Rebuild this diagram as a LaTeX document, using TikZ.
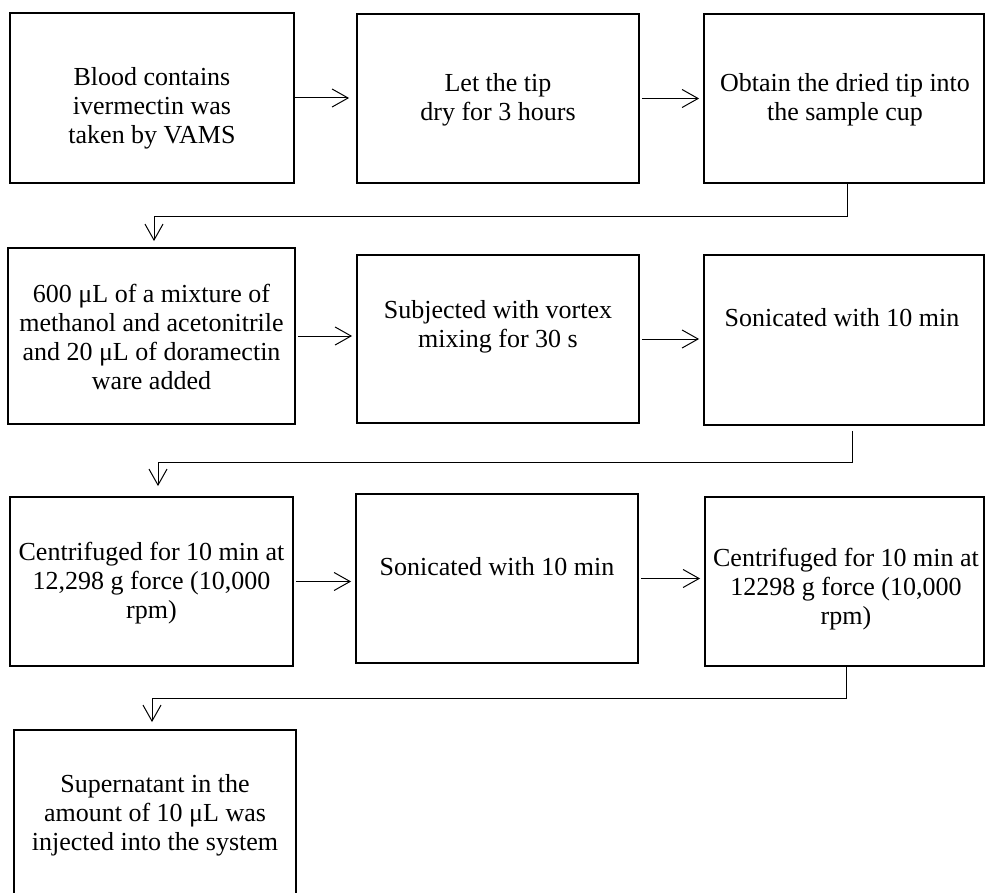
\documentclass[tikz,border=0pt]{standalone}
\usepackage{fontspec}
\setmainfont{Liberation Serif}
\usetikzlibrary{arrows.meta}

\tikzset{
  stepbox/.style={draw, line width=1.8pt, inner sep=0pt},
  steptext/.style={align=center, font=\fontsize{26}{29}\selectfont, inner sep=0pt},
  flow/.style={-{Straight Barb[length=16pt,width=18pt]}, line width=1pt, shorten <=2pt, shorten >=4pt},
  elbow/.style={-{Straight Barb[length=16pt,width=18pt]}, line width=1pt}
}

\begin{document}
\begin{tikzpicture}[x=1pt,y=-1pt]
\useasboundingbox (0,0) rectangle (985,893);
\clip (0,0) rectangle (985,893);

% first row
\node[stepbox, line width=1.3pt, minimum width=284, minimum height=170] (blood) at (152,98) {};
\node[stepbox, minimum width=282, minimum height=169] (drytip) at (498,98.5) {};
\node[stepbox, minimum width=280, minimum height=169] (obtain) at (844,98.5) {};
\node[steptext] (bloodtxt) at (152,108) {Blood contains\\ivermectin was\\taken by VAMS};
\node[steptext] (drytiptxt) at (498,99.5) {Let the tip\\dry for 3 hours};
\node[steptext] (obtaintxt) at (845,100) {Obtain the dried tip into\\the sample cup};

% second row
\node[stepbox, minimum width=287, minimum height=176] (mixture) at (151.5,336) {};
\node[stepbox, minimum width=282, minimum height=168] (vortex) at (498,339) {};
\node[stepbox, minimum width=280, minimum height=170] (sonicA) at (844,340) {};
\node[steptext] (mixturetxt) at (151.5,337) {600 μL of a mixture of\\methanol and acetonitrile\\and 20 μL of doramectin\\ware added};
\node[steptext] (vortextxt) at (498,326.5) {Subjected with vortex\\mixing for 30 s};
\node[steptext] (sonicAtxt) at (842,318) {Sonicated with 10 min};

% third row
\node[stepbox, minimum width=283, minimum height=169] (centriA) at (151.5,581.5) {};
\node[stepbox, minimum width=282, minimum height=169] (sonicB) at (497,578.5) {};
\node[stepbox, minimum width=279, minimum height=169] (centriB) at (844.5,581.5) {};
\node[steptext] (centriAtxt) at (151.5,583) {Centrifuged for 10 min at\\12,298 g force (10,000\\rpm)};
\node[steptext] (sonicBtxt) at (497,567) {Sonicated with 10 min};
\node[steptext] (centriBtxt) at (846,589) {Centrifuged for 10 min at\\12298 g force (10,000\\rpm)};

% last row
\node[stepbox, minimum width=282, minimum height=170] (super) at (155,815) {};
\node[steptext] (supertxt) at (155,815) {Supernatant in the\\amount of 10 μL was\\injected into the system};

% arrows along the rows
\draw[flow, shorten <=0pt, shorten >=7pt] (blood.east) -- (blood.east -| drytip.west);
\draw[flow] (drytip.east) -- (drytip.east -| obtain.west);
\draw[flow] (mixture.east) -- (mixture.east -| vortex.west);
\draw[flow] (vortex.east) -- (vortex.east -| sonicA.west);
\draw[flow] (centriA.east) -- (centriA.east -| sonicB.west);
\draw[flow] (sonicB.east) -- (sonicB.east -| centriB.west);

% arrows to the next row
\draw[elbow, shorten >=6pt] ([xshift=3]obtain.south) -- ++(0,33) -| ([xshift=2.5]mixture.north);
\draw[elbow, shorten <=5pt, shorten >=10pt] ([xshift=8]sonicA.south) -- ++(0,37) -| ([xshift=6.5]centriA.north);
\draw[elbow, shorten >=7pt] ([xshift=1.5]centriB.south) -- ++(0,32) -| ([xshift=-3]super.north);
\end{tikzpicture}
\end{document}
